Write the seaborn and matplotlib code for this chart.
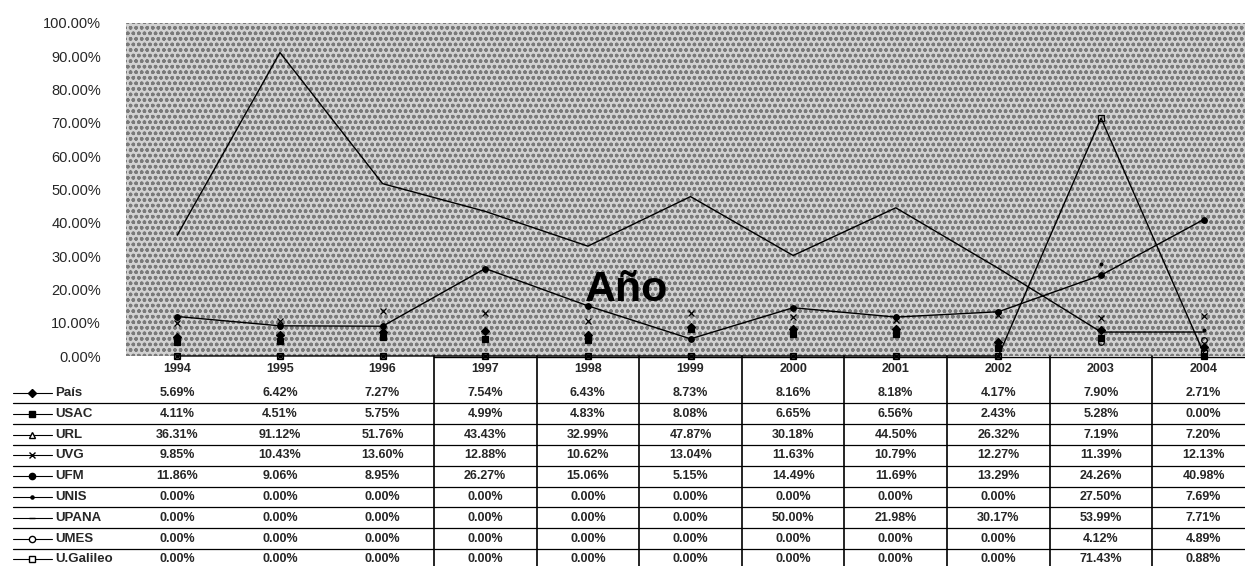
import numpy as np
import pandas as pd
import seaborn as sns
import matplotlib.pyplot as plt
from matplotlib.patches import Rectangle

years = [1994, 1995, 1996, 1997, 1998, 1999, 2000, 2001, 2002, 2003, 2004]
series_names = ["País", "USAC", "URL", "UVG", "UFM", "UNIS", "UPANA", "UMES", "U.Galileo"]

pais = [5.69, 6.42, 7.27, 7.54, 6.43, 8.73, 8.16, 8.18, 4.17, 7.90, 2.71]
usac = [4.11, 4.51, 5.75, 4.99, 4.83, 8.08, 6.65, 6.56, 2.43, 5.28, 0.00]
url = [36.31, 91.12, 51.76, 43.43, 32.99, 47.87, 30.18, 44.50, 26.32, 7.19, 7.20]
uvg = [9.85, 10.43, 13.60, 12.88, 10.62, 13.04, 11.63, 10.79, 12.27, 11.39, 12.13]
ufm = [11.86, 9.06, 8.95, 26.27, 15.06, 5.15, 14.49, 11.69, 13.29, 24.26, 40.98]
unis = [0.00, 0.00, 0.00, 0.00, 0.00, 0.00, 0.00, 0.00, 0.00, 27.50, 7.69]
upana = [0.00, 0.00, 0.00, 0.00, 0.00, 0.00, 50.00, 21.98, 30.17, 53.99, 7.71]
umes = [0.00, 0.00, 0.00, 0.00, 0.00, 0.00, 0.00, 0.00, 0.00, 4.12, 4.89]
galileo = [0.00, 0.00, 0.00, 0.00, 0.00, 0.00, 0.00, 0.00, 0.00, 71.43, 0.88]

values = [pais, usac, url, uvg, ufm, unis, upana, umes, galileo]

rows = []
for name, vals in zip(series_names, values):
    for y, v in zip(years, vals):
        rows.append({"serie": name, "year": y, "pct": v / 100})
df = pd.DataFrame(rows)

sns.set_style("white")
plt.rcParams["font.family"] = ["Liberation Sans", "DejaVu Sans"]

# marker, filled, line visible in the plot, marker visible in the plot, drawn at all
styles = {
    "País": ("D", True, False, True, True),
    "USAC": ("s", True, False, True, True),
    "URL": ("^", False, True, False, True),
    "UVG": ("x", True, False, True, True),
    "UFM": ("o", True, True, True, True),
    "UNIS": (".", True, False, True, True),
    "UPANA": ("_", True, False, False, False),
    "UMES": ("o", False, False, True, True),
    "U.Galileo": ("s", False, True, True, True),
}

W, H = 1245, 566
fig = plt.figure(figsize=(W / 100, H / 100), dpi=100)
left, right, top, bottom = 126, 1255, 23, 356
ax = fig.add_axes([left / W, 1 - bottom / H, (right - left) / W, (bottom - top) / H])
ax.set_facecolor("#d2d2d2")
ax.add_patch(Rectangle((0, 0), 1, 1, transform=ax.transAxes, fill=False,
                       hatch="ooo", edgecolor="#7a7a7a", lw=0, zorder=0))

for name in series_names:
    mk, filled, line_on, mk_on, draw = styles[name]
    if not draw:
        continue
    sub = df[df["serie"] == name]
    sns.lineplot(data=sub, x="year", y="pct", ax=ax, color="black",
                 lw=1.0 if line_on else 0, marker=mk if mk_on else None,
                 markersize=4,
                 markerfacecolor="black" if filled else "none",
                 markeredgecolor="black", markeredgewidth=0.9, clip_on=False,
                 legend=False, zorder=3)

ax.set_xlim(years[0] - 0.5, years[-1] + 0.5)
ax.set_ylim(0, 1)
ticks = np.arange(0, 1.01, 0.1)
ax.set_yticks(ticks)
ax.set_yticklabels([f"{t * 100:.2f}%" for t in ticks], fontsize=10.5)
ax.tick_params(axis="y", length=0, pad=18)
ax.set_xticks([])
ax.set_xlabel("")
ax.set_ylabel("")
for s in ax.spines.values():
    s.set_visible(False)

fig.text(627 / W, 1 - 290 / H, "Año", ha="center", va="center", color="black",
         fontsize=31, fontweight="bold", zorder=10)

# data table under the plot
tab = fig.add_axes([left / W, 0, (right - left) / W, 1 - bottom / H])
tab.set_xlim(years[0] - 0.5, years[-1] + 0.5)
tab.set_ylim(H, bottom)
tab.axis("off")
colw = (right - left) / len(years)


def px2x(px):
    return years[0] - 0.5 + (px - left) / colw


header_y = 369
row0, rowh = 393, 20.8
for y in years:
    tab.text(y, header_y, str(y), ha="center", va="center", fontsize=9, fontweight="bold")

tab.plot([px2x(434), years[-1] + 0.5], [bottom + 1, bottom + 1], color="black", lw=1, clip_on=False)
for b in years[3:]:
    tab.plot([b - 0.5, b - 0.5], [bottom, H], color="black", lw=1.2, clip_on=False)

for i, (name, vals) in enumerate(zip(series_names, values)):
    yc = row0 + i * rowh
    for y, v in zip(years, vals):
        tab.text(y, yc, f"{v:.2f}%", ha="center", va="center", fontsize=9, fontweight="bold")
    if i < len(series_names) - 1:
        tab.plot([px2x(13), years[-1] + 0.5], [yc + rowh / 2, yc + rowh / 2],
                 color="black", lw=0.9, clip_on=False)
    mk, filled = styles[name][:2]
    tab.plot([px2x(13), px2x(52)], [yc, yc], color="black", lw=0.8, clip_on=False)
    tab.plot([px2x(32)], [yc], marker=mk, markersize=4.5, color="black",
             markerfacecolor="black" if filled else "white", clip_on=False)
    tab.text(px2x(55), yc, name, ha="left", va="center", fontsize=9.5, fontweight="bold")

fig.savefig("out.png", dpi=100)
